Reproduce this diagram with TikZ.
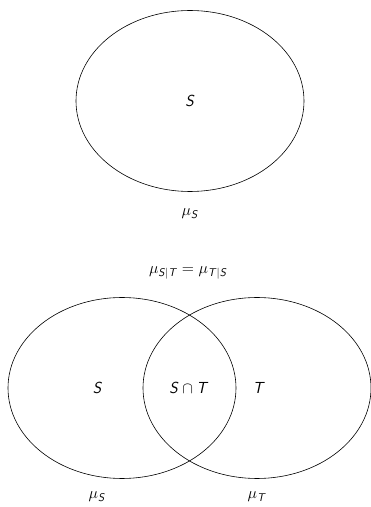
\RequirePackage{fix-cm}
\documentclass[tikz,border=0pt]{standalone}
\usepackage{amsmath}
\usepackage{fontspec}
\usetikzlibrary{shapes.geometric}
\tikzset{
  set/.style={ellipse, draw, line width=0.6pt, inner sep=0pt,
              minimum width=228pt, minimum height=181pt},
  lbl/.style={inner sep=0pt, font=\fontsize{16}{19}\selectfont}
}
\newcommand{\sv}[1]{\textsf{\textit{#1}}}
\begin{document}
\begin{tikzpicture}[x=1pt, y=1pt]
  \useasboundingbox (0,0) rectangle (371,507);
  % single set
  \node[set] (top) at (190,406) {};
  \node[lbl] (topS) at (190,406) {\sv{S}};
  \node[lbl] (topmu) at (190,293) {$\mu_{\sv{S}}$};
  % conditional measure
  \node[lbl] (cond) at (188,234) {$\mu_{\sv{S}|\sv{T}} = \mu_{\sv{T}|\sv{S}}$};
  % two overlapping sets
  \node[set] (setS) at (122,119) {};
  \node[set] (setT) at (257,119) {};
  \node[lbl] (lS) at (97.5,119) {\sv{S}};
  \node[lbl] (lST) at (189,119) {$\sv{S}\cap\sv{T}$};
  \node[lbl] (lT) at (259,119) {\sv{T}};
  \node[lbl] (muS) at (97,10) {$\mu_{\sv{S}}$};
  \node[lbl] (muT) at (257,10) {$\mu_{\sv{T}}$};
\end{tikzpicture}
\end{document}
